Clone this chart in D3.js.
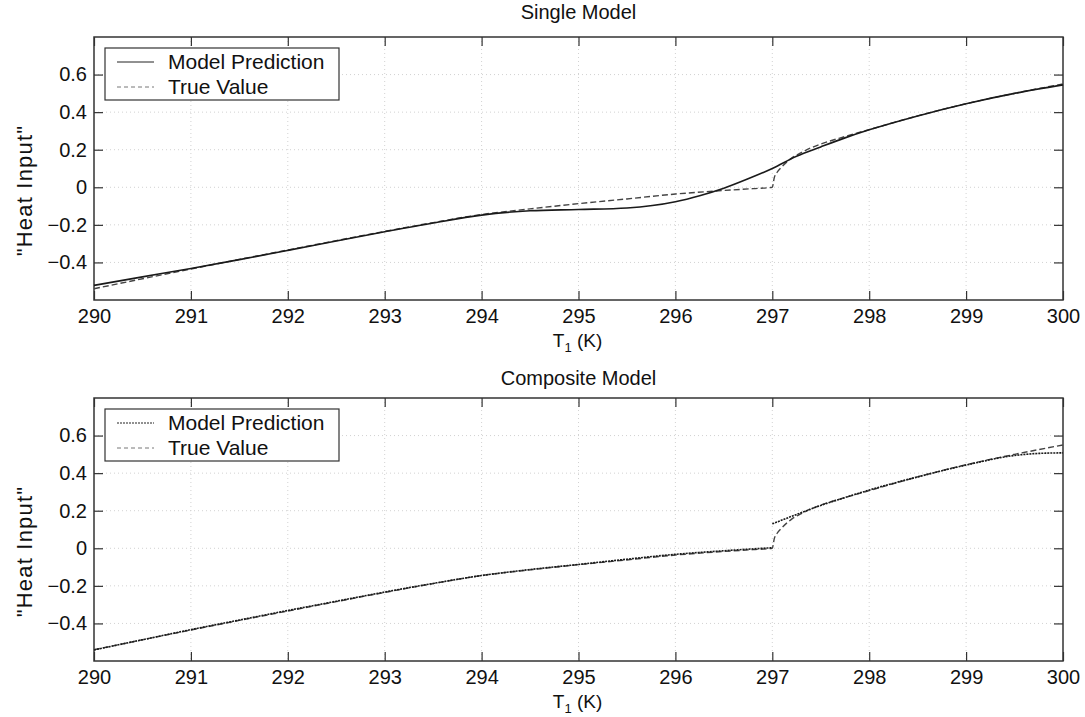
<!DOCTYPE html>
<html>
<head>
<meta charset="utf-8">
<script src="https://cdn.jsdelivr.net/npm/d3@7"></script>
<style>
  body { margin: 0; background: #fff; }
  text { font-family: "Liberation Sans", Arial, sans-serif; fill: #111; }
</style>
</head>
<body>
<script>
// values
const xTicks = [290, 291, 292, 293, 294, 295, 296, 297, 298, 299, 300];
const yTicks = [-0.4, -0.2, 0, 0.2, 0.4, 0.6];

const trueT = [290, 290.5, 291, 291.5, 292, 292.5, 293, 293.5, 294, 294.5, 295, 295.5, 296, 296.5, 296.8, 297,
  297.02, 297.05, 297.1, 297.2, 297.3, 297.4, 297.5, 297.75, 298, 298.5, 299, 299.5, 300];
const trueValue = [-0.54, -0.487, -0.435, -0.384, -0.334, -0.284, -0.235, -0.188, -0.145, -0.115, -0.087, -0.062, -0.036, -0.017, -0.007, 0,
  0.05, 0.08, 0.11, 0.155, 0.185, 0.21, 0.23, 0.27, 0.307, 0.38, 0.445, 0.5, 0.55];

const singleT = [290, 290.5, 291, 291.5, 292, 292.5, 293, 293.5, 294, 294.5, 295, 295.5, 296, 296.25, 296.5, 296.75,
  297, 297.25, 297.5, 297.75, 298, 298.5, 299, 299.5, 300];
const singleModel = [-0.522, -0.477, -0.432, -0.385, -0.336, -0.286, -0.237, -0.19, -0.148, -0.125, -0.118, -0.11, -0.077, -0.045, -0.005, 0.045,
  0.1, 0.165, 0.215, 0.263, 0.306, 0.38, 0.445, 0.5, 0.545];

// null marks the jump at 297 K
const compT = [290, 290.5, 291, 291.5, 292, 292.5, 293, 293.5, 294, 294.5, 295, 295.5, 296, 296.5, 297, 297,
  297, 297.25, 297.5, 297.75, 298, 298.5, 299, 299.5, 299.75, 300];
const compModel = [-0.541, -0.487, -0.433, -0.382, -0.331, -0.282, -0.233, -0.187, -0.145, -0.113, -0.086, -0.058, -0.032, -0.013, 0.003, null,
  0.13, 0.18, 0.228, 0.27, 0.31, 0.38, 0.443, 0.494, 0.505, 0.508];

const width = 1085;
const height = 717;
const left = 94;
const right = 1063;

const svg = d3.select('body').append('svg')
  .attr('width', width)
  .attr('height', height);

const x = d3.scaleLinear().domain([290, 300]).range([left, right]);

function zip(xs, ys) {
  return xs.map((t, i) => ({ t, v: ys[i] }));
}

function drawPanel(top, bottom, title, titleY, modelT, modelV, modelDash) {
  const y = d3.scaleLinear().domain([-0.6, 0.8]).range([bottom, top]);
  const g = svg.append('g');

  // dotted grid
  g.selectAll('.gx').data(xTicks.slice(1, -1)).enter().append('line')
    .attr('x1', d => x(d)).attr('x2', d => x(d))
    .attr('y1', top).attr('y2', bottom)
    .attr('stroke', '#d2d2d2').attr('stroke-dasharray', '1,3');
  g.selectAll('.gy').data(yTicks).enter().append('line')
    .attr('x1', left).attr('x2', right)
    .attr('y1', d => y(d)).attr('y2', d => y(d))
    .attr('stroke', '#d2d2d2').attr('stroke-dasharray', '1,3');

  // axes with inward ticks on all sides
  g.append('g').attr('transform', `translate(0,${bottom})`)
    .call(d3.axisBottom(x).tickValues(xTicks).tickSizeInner(-9).tickSizeOuter(0).tickPadding(9));
  g.append('g').attr('transform', `translate(0,${top})`)
    .call(d3.axisTop(x).tickValues(xTicks).tickSizeInner(-9).tickSizeOuter(0).tickFormat(''));
  g.append('g').attr('transform', `translate(${left},0)`)
    .call(d3.axisLeft(y).tickValues(yTicks).tickSizeInner(-9).tickSizeOuter(0).tickPadding(7)
      .tickFormat(d => (d === 0 ? '0' : d3.format('.1f')(d))));
  g.append('g').attr('transform', `translate(${right},0)`)
    .call(d3.axisRight(y).tickValues(yTicks).tickSizeInner(-9).tickSizeOuter(0).tickFormat(''));

  g.selectAll('.domain').remove();
  g.selectAll('.tick line').attr('stroke', '#333').attr('stroke-width', 1.2);
  g.selectAll('.tick text').style('font-size', '20px').attr('fill', '#111');

  g.append('rect')
    .attr('x', left).attr('y', top)
    .attr('width', right - left).attr('height', bottom - top)
    .attr('fill', 'none').attr('stroke', '#333').attr('stroke-width', 1.5);

  // curves
  const line = d3.line()
    .defined(d => d.v !== null)
    .x(d => x(d.t))
    .y(d => y(d.v))
    .curve(d3.curveMonotoneX);

  g.append('path').datum(zip(trueT, trueValue))
    .attr('d', line).attr('fill', 'none')
    .attr('stroke', '#444').attr('stroke-width', 1.4).attr('stroke-dasharray', '6,3');
  g.append('path').datum(zip(modelT, modelV))
    .attr('d', line).attr('fill', 'none')
    .attr('stroke', '#1a1a1a').attr('stroke-width', 1.6).attr('stroke-dasharray', modelDash);

  // legend
  const lg = g.append('g');
  lg.append('rect')
    .attr('x', 105).attr('y', top + 11).attr('width', 234).attr('height', 52)
    .attr('fill', '#fff').attr('stroke', '#333').attr('stroke-width', 1.2);
  const rows = [
    { label: 'Model Prediction', dash: modelDash, color: '#222' },
    { label: 'True Value', dash: '4,3', color: '#777' },
  ];
  rows.forEach((r, i) => {
    const cy = top + 25 + i * 25;
    lg.append('line')
      .attr('x1', 117).attr('x2', 154).attr('y1', cy).attr('y2', cy)
      .attr('stroke', r.color).attr('stroke-width', 1).attr('stroke-dasharray', r.dash);
    lg.append('text')
      .attr('x', 168).attr('y', cy + 7)
      .style('font-size', '21px')
      .text(r.label);
  });

  // title and axis labels
  g.append('text')
    .attr('x', (left + right) / 2).attr('y', titleY)
    .attr('text-anchor', 'middle')
    .style('font-size', '20px')
    .text(title);

  const xl = g.append('text')
    .attr('x', (left + right) / 2 - 1).attr('y', bottom + 47)
    .attr('text-anchor', 'middle')
    .style('font-size', '19px');
  xl.append('tspan').text('T');
  xl.append('tspan').attr('dy', 5).style('font-size', '13px').text('1');
  xl.append('tspan').attr('dy', -5).text(' (K)');

  g.append('text')
    .attr('transform', `translate(32,${(top + bottom) / 2 + 22}) rotate(-90)`)
    .attr('text-anchor', 'middle')
    .style('font-size', '22px')
    .style('letter-spacing', '1.2px')
    .text('"Heat Input"');
}

drawPanel(37, 300, 'Single Model', 19, singleT, singleModel, null);
drawPanel(398, 661, 'Composite Model', 385, compT, compModel, '2,1');
</script>
</body>
</html>
